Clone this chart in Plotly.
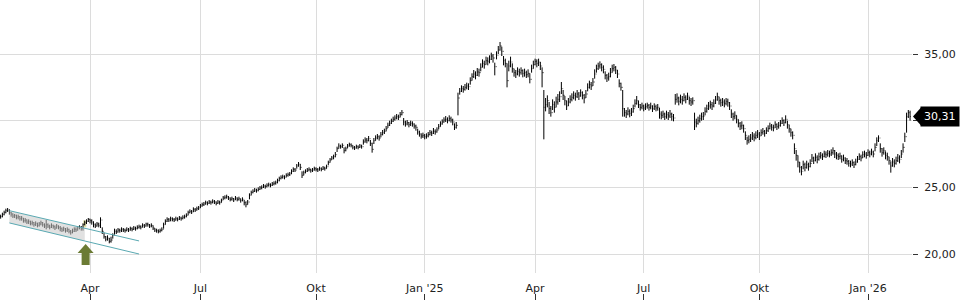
import pandas as pd
import plotly.graph_objects as go

# ---------------- data ----------------
start_date = "2024-01-18"
end_date = "2026-02-05"
holidays = ["2024-03-29", "2024-04-01", "2024-05-01", "2024-12-24", "2024-12-25",
            "2024-12-26", "2024-12-31", "2025-01-01", "2025-04-18", "2025-04-21",
            "2025-05-01", "2025-12-24", "2025-12-25", "2025-12-26", "2025-12-31",
            "2026-01-01"]

closes = [
    22.80, 22.95, 23.10, 23.25, 23.30, 23.10, 23.00, 22.85, 22.90, 22.75,
    22.80, 22.65, 22.70, 22.50, 22.55, 22.40, 22.45, 22.30, 22.35, 22.20,
    22.30, 22.15, 22.25, 22.35, 22.20, 22.10, 22.20, 22.10, 22.00, 22.15,
    22.05, 21.95, 22.10, 22.00, 21.90, 21.80, 21.90, 21.75, 21.85, 21.70,
    21.60, 21.70, 21.85, 21.80, 21.95, 22.00, 21.90, 22.20, 22.35, 22.45,
    22.60, 22.50, 22.40, 22.20, 22.10, 22.25, 22.15, 22.55, 21.70, 21.30,
    21.10, 21.20, 20.95, 21.05, 21.40, 21.70, 21.65, 21.80, 21.75, 21.85,
    21.80, 21.75, 21.85, 21.80, 21.90, 21.85, 21.95, 21.90, 22.00, 22.05,
    22.00, 22.15, 22.10, 22.25, 22.20, 22.10, 22.15, 21.95, 21.80, 21.75,
    21.70, 21.75, 21.85, 22.20, 22.45, 22.60, 22.55, 22.65, 22.60, 22.55,
    22.65, 22.60, 22.70, 22.65, 22.75, 22.80, 22.90, 23.10, 23.20, 23.15,
    23.35, 23.30, 23.40, 23.45, 23.60, 23.70, 23.75, 23.85, 23.80, 23.90,
    23.85, 23.95, 23.90, 23.80, 23.90, 23.85, 24.00, 24.20, 24.25, 24.30,
    24.20, 24.10, 24.15, 24.05, 24.20, 24.10, 24.15, 24.00, 24.10, 23.85,
    23.70, 23.90, 24.40, 24.60, 24.70, 24.80, 24.75, 24.85, 24.95, 25.00,
    25.10, 25.05, 25.15, 25.20, 25.15, 25.25, 25.30, 25.35, 25.50, 25.65,
    25.75, 25.80, 25.75, 25.90, 25.95, 26.00, 26.20, 26.35, 26.30, 26.60,
    26.75, 26.50, 25.90, 26.10, 26.20, 26.30, 26.35, 26.25, 26.30, 26.40,
    26.35, 26.30, 26.40, 26.35, 26.45, 26.40, 26.55, 26.85, 27.05, 27.20,
    27.30, 27.45, 27.90, 28.10, 28.05, 28.15, 27.75, 27.90, 28.10, 28.20,
    28.15, 28.00, 27.95, 28.05, 28.00, 28.10, 28.05, 28.40, 28.55, 28.50,
    28.65, 28.30, 27.85, 28.50, 28.70, 28.80, 28.70, 28.95, 29.10, 29.20,
    29.40, 29.65, 29.80, 29.95, 30.10, 30.20, 30.30, 30.25, 30.45, 30.60,
    29.90, 29.75, 29.85, 29.70, 29.80, 29.75, 29.60, 29.50, 29.15, 29.00,
    28.85, 28.90, 28.80, 28.85, 28.95, 29.10, 29.05, 29.20, 29.15, 29.30,
    29.55, 29.75, 29.90, 30.05, 30.10, 30.00, 30.15, 30.05, 29.90, 29.50,
    29.65, 31.70, 32.20, 32.40, 32.35, 32.50, 32.60, 32.55, 33.00, 33.30,
    33.50, 33.40, 33.65, 33.60, 34.00, 34.30, 34.20, 34.50, 34.45, 34.60,
    34.85, 34.70, 34.05, 34.90, 35.30, 35.60, 35.20, 34.50, 34.30, 33.00,
    34.10, 34.40, 33.90, 33.60, 33.50, 33.70, 33.60, 33.75, 33.55, 33.60,
    33.45, 33.55, 33.10, 33.90, 34.20, 34.45, 34.30, 34.40, 34.10, 33.60,
    31.00, 31.20, 31.50, 30.90, 30.60, 31.20, 31.00, 31.40, 31.60, 31.80,
    32.40, 31.90, 31.50, 31.10, 31.40, 31.60, 31.75, 31.90, 31.80, 32.00,
    31.85, 32.10, 31.90, 31.70, 32.00, 32.50, 32.70, 32.60, 32.90, 33.50,
    33.90, 34.10, 34.20, 34.00, 33.85, 33.40, 33.20, 33.30, 33.60, 33.90,
    34.00, 33.80, 33.50, 32.80, 32.50, 30.90, 30.60, 30.50, 30.70, 30.55,
    30.65, 30.90, 31.30, 31.50, 31.20, 31.00, 31.10, 30.95, 31.05, 31.15,
    31.00, 31.10, 30.90, 31.05, 30.95, 31.00, 30.50, 30.40, 30.50, 30.30,
    30.45, 30.35, 30.50, 30.30, 30.20, 31.60, 31.70, 31.45, 31.60, 31.50,
    31.75, 31.60, 31.85, 31.50, 31.40, 31.50, 29.90, 29.80, 30.00, 30.15,
    30.30, 30.35, 30.70, 30.90, 31.10, 31.20, 31.10, 31.30, 31.55, 31.80,
    31.50, 31.35, 31.40, 31.30, 31.45, 31.35, 31.10, 30.50, 30.30, 30.40,
    30.10, 29.80, 29.60, 29.65, 29.40, 28.90, 28.50, 28.60, 28.70, 28.85,
    28.75, 28.90, 29.00, 28.85, 29.10, 29.20, 29.05, 29.25, 29.40, 29.60,
    29.50, 29.45, 29.70, 29.55, 29.65, 29.80, 30.00, 29.85, 30.10, 29.70,
    29.40, 29.10, 28.90, 27.90, 27.40, 26.90, 26.50, 26.20, 26.70, 26.50,
    26.70, 26.55, 26.80, 27.20, 27.00, 27.25, 27.10, 27.30, 27.40, 27.30,
    27.50, 27.45, 27.55, 27.50, 27.60, 27.75, 27.50, 27.40, 27.30, 27.35,
    27.10, 27.20, 27.00, 26.95, 26.80, 26.75, 26.85, 26.70, 26.90, 27.10,
    27.30, 27.20, 27.45, 27.50, 27.40, 27.60, 27.50, 27.65, 27.50, 28.00,
    28.50, 28.70, 27.90, 27.60, 27.75, 27.40, 27.30, 27.00, 26.60, 26.90,
    26.80, 27.00, 27.20, 27.10, 27.50, 28.00, 28.80, 30.30, 30.60, 30.31,
]

highs = [
    22.95, 23.10, 23.25, 23.40, 23.45, 23.35, 23.15, 23.05, 23.00, 22.95,
    22.95, 22.85, 22.85, 22.70, 22.70, 22.60, 22.60, 22.50, 22.50, 22.40,
    22.45, 22.35, 22.40, 22.50, 22.40, 22.30, 22.55, 22.30, 22.20, 22.30,
    22.20, 22.15, 22.25, 22.15, 22.10, 22.00, 22.05, 21.95, 22.00, 21.90,
    21.80, 21.90, 22.00, 22.00, 22.10, 22.15, 22.10, 22.30, 22.50, 22.60,
    22.70, 22.65, 22.60, 22.45, 22.30, 22.40, 22.35, 22.75, 22.00, 21.60,
    21.35, 21.40, 21.20, 21.30, 21.55, 21.90, 21.85, 21.95, 21.90, 22.00,
    21.95, 21.90, 22.00, 21.95, 22.05, 22.00, 22.10, 22.05, 22.15, 22.20,
    22.15, 22.30, 22.25, 22.35, 22.35, 22.25, 22.30, 22.15, 21.95, 21.90,
    21.85, 21.90, 22.00, 22.35, 22.60, 22.75, 22.70, 22.80, 22.75, 22.70,
    22.80, 22.75, 22.85, 22.80, 22.90, 22.95, 23.05, 23.25, 23.35, 23.30,
    23.50, 23.45, 23.55, 23.60, 23.75, 23.85, 23.90, 24.00, 23.95, 24.05,
    24.00, 24.10, 24.05, 23.95, 24.05, 24.00, 24.15, 24.35, 24.40, 24.45,
    24.35, 24.25, 24.30, 24.20, 24.35, 24.25, 24.30, 24.15, 24.25, 24.05,
    23.95, 24.05, 24.55, 24.75, 24.85, 24.95, 24.90, 25.00, 25.10, 25.15,
    25.25, 25.20, 25.30, 25.35, 25.30, 25.40, 25.45, 25.50, 25.65, 25.80,
    25.90, 25.95, 25.90, 26.05, 26.10, 26.15, 26.35, 26.50, 26.45, 26.75,
    26.90, 26.75, 26.20, 26.25, 26.35, 26.45, 26.50, 26.40, 26.45, 26.55,
    26.50, 26.45, 26.55, 26.50, 26.60, 26.55, 26.70, 27.00, 27.20, 27.35,
    27.45, 27.65, 28.05, 28.30, 28.20, 28.30, 28.00, 28.05, 28.25, 28.35,
    28.30, 28.15, 28.10, 28.20, 28.15, 28.25, 28.20, 28.60, 28.75, 28.70,
    28.85, 28.55, 28.35, 28.70, 28.90, 29.00, 28.90, 29.15, 29.30, 29.40,
    29.60, 29.85, 30.00, 30.15, 30.30, 30.40, 30.50, 30.45, 30.65, 30.80,
    30.20, 30.00, 30.05, 29.90, 30.00, 29.95, 29.80, 29.70, 29.40, 29.25,
    29.05, 29.10, 29.00, 29.05, 29.15, 29.30, 29.25, 29.45, 29.35, 29.50,
    29.75, 29.95, 30.10, 30.25, 30.35, 30.25, 30.40, 30.30, 30.15, 29.80,
    29.90, 32.10, 32.45, 32.65, 32.60, 32.75, 32.85, 32.80, 33.25, 33.55,
    33.80, 33.70, 33.95, 33.90, 34.30, 34.60, 34.50, 34.80, 34.75, 34.90,
    35.10, 35.00, 34.35, 35.20, 35.60, 35.90, 35.55, 34.85, 34.65, 34.30,
    34.50, 34.80, 34.30, 33.90, 33.80, 34.00, 33.90, 34.00, 33.85, 33.90,
    33.75, 33.85, 33.55, 34.20, 34.50, 34.65, 34.60, 34.65, 34.40, 34.00,
    32.30, 31.70, 31.90, 31.40, 31.10, 31.60, 31.45, 31.80, 32.00, 32.20,
    32.90, 32.30, 31.85, 31.50, 31.70, 31.90, 32.05, 32.20, 32.10, 32.30,
    32.15, 32.35, 32.20, 32.00, 32.30, 32.80, 33.00, 32.90, 33.20, 33.85,
    34.20, 34.35, 34.45, 34.30, 34.15, 33.70, 33.50, 33.60, 33.95, 34.20,
    34.25, 34.10, 33.80, 33.10, 32.85, 32.30, 30.95, 30.80, 31.00, 30.85,
    30.95, 31.20, 31.60, 31.85, 31.50, 31.25, 31.35, 31.20, 31.30, 31.35,
    31.25, 31.35, 31.15, 31.30, 31.20, 31.25, 30.95, 30.70, 30.75, 30.60,
    30.75, 30.65, 30.80, 30.60, 30.50, 32.00, 32.05, 31.80, 31.95, 31.85,
    32.05, 31.90, 32.10, 31.80, 31.70, 31.75, 30.60, 30.15, 30.30, 30.45,
    30.60, 30.65, 31.00, 31.20, 31.40, 31.50, 31.40, 31.60, 31.85, 32.10,
    31.80, 31.65, 31.70, 31.60, 31.70, 31.65, 31.40, 30.85, 30.60, 30.70,
    30.40, 30.10, 29.90, 29.95, 29.70, 29.20, 28.80, 28.90, 29.00, 29.15,
    29.05, 29.20, 29.30, 29.15, 29.35, 29.45, 29.30, 29.50, 29.65, 29.85,
    29.75, 29.70, 29.95, 29.80, 29.90, 30.05, 30.25, 30.10, 30.40, 30.00,
    29.70, 29.40, 29.20, 28.30, 27.80, 27.40, 26.90, 26.60, 27.00, 26.85,
    27.00, 26.85, 27.10, 27.50, 27.30, 27.55, 27.40, 27.60, 27.65, 27.55,
    27.75, 27.70, 27.80, 27.75, 27.85, 28.00, 27.80, 27.65, 27.55, 27.60,
    27.40, 27.45, 27.25, 27.20, 27.05, 27.00, 27.10, 26.95, 27.15, 27.35,
    27.55, 27.45, 27.70, 27.75, 27.65, 27.85, 27.75, 27.90, 27.75, 28.30,
    28.75, 28.90, 28.30, 27.95, 28.00, 27.70, 27.60, 27.30, 26.95, 27.20,
    27.10, 27.30, 27.50, 27.40, 27.80, 28.30, 29.10, 30.60, 30.80, 30.75,
]

lows = [
    22.65, 22.75, 22.90, 23.05, 23.15, 22.95, 22.80, 22.70, 22.70, 22.60,
    22.60, 22.50, 22.50, 22.35, 22.35, 22.25, 22.25, 22.15, 22.15, 22.05,
    22.10, 22.00, 22.05, 22.15, 22.05, 21.95, 21.85, 21.95, 21.85, 21.95,
    21.90, 21.80, 21.90, 21.85, 21.70, 21.65, 21.70, 21.60, 21.65, 21.55,
    21.45, 21.55, 21.65, 21.65, 21.75, 21.85, 21.75, 21.75, 22.15, 22.25,
    22.40, 22.30, 22.20, 22.00, 21.95, 22.05, 22.00, 21.95, 21.50, 21.15,
    20.95, 21.00, 20.80, 20.85, 21.15, 21.45, 21.50, 21.60, 21.60, 21.65,
    21.65, 21.60, 21.70, 21.65, 21.75, 21.70, 21.80, 21.75, 21.85, 21.90,
    21.85, 22.00, 21.95, 22.05, 22.05, 21.95, 22.00, 21.80, 21.65, 21.60,
    21.55, 21.60, 21.70, 21.90, 22.20, 22.40, 22.40, 22.45, 22.45, 22.40,
    22.50, 22.45, 22.55, 22.50, 22.60, 22.65, 22.75, 22.90, 23.05, 23.00,
    23.15, 23.15, 23.25, 23.30, 23.45, 23.55, 23.60, 23.70, 23.65, 23.75,
    23.70, 23.80, 23.75, 23.65, 23.75, 23.70, 23.85, 24.05, 24.10, 24.15,
    24.05, 23.95, 24.00, 23.90, 24.05, 23.95, 24.00, 23.85, 23.95, 23.65,
    23.50, 23.70, 24.10, 24.40, 24.55, 24.65, 24.60, 24.70, 24.80, 24.85,
    24.95, 24.90, 25.00, 25.05, 25.00, 25.10, 25.15, 25.20, 25.30, 25.45,
    25.60, 25.65, 25.60, 25.75, 25.80, 25.85, 26.00, 26.15, 26.15, 26.40,
    26.55, 26.30, 25.70, 25.90, 26.05, 26.15, 26.20, 26.10, 26.15, 26.25,
    26.20, 26.15, 26.25, 26.20, 26.30, 26.25, 26.40, 26.65, 26.85, 27.05,
    27.10, 27.25, 27.65, 27.90, 27.90, 27.95, 27.55, 27.70, 27.95, 28.05,
    28.00, 27.85, 27.80, 27.90, 27.85, 27.95, 27.90, 28.20, 28.35, 28.30,
    28.45, 28.10, 27.60, 28.25, 28.50, 28.60, 28.50, 28.75, 28.90, 29.00,
    29.20, 29.45, 29.60, 29.75, 29.90, 30.00, 30.10, 30.05, 30.25, 30.40,
    29.65, 29.55, 29.65, 29.50, 29.60, 29.55, 29.40, 29.25, 28.95, 28.80,
    28.65, 28.70, 28.60, 28.65, 28.75, 28.90, 28.85, 29.00, 28.95, 29.10,
    29.35, 29.55, 29.70, 29.85, 29.90, 29.80, 29.95, 29.85, 29.65, 29.30,
    29.40, 30.40, 31.95, 32.15, 32.10, 32.25, 32.35, 32.30, 32.70, 33.00,
    33.20, 33.10, 33.35, 33.30, 33.70, 34.00, 33.90, 34.20, 34.15, 34.30,
    34.55, 34.35, 33.40, 34.60, 35.00, 35.25, 34.85, 34.15, 34.00, 32.50,
    33.70, 34.00, 33.60, 33.30, 33.20, 33.40, 33.30, 33.45, 33.25, 33.30,
    33.20, 33.25, 32.80, 33.60, 33.90, 34.15, 34.00, 34.10, 33.80, 32.50,
    28.60, 30.70, 31.00, 30.50, 30.30, 30.80, 30.60, 31.00, 31.20, 31.40,
    32.00, 31.55, 31.15, 30.80, 31.10, 31.30, 31.45, 31.60, 31.50, 31.70,
    31.55, 31.80, 31.60, 31.30, 31.70, 32.20, 32.40, 32.30, 32.60, 33.15,
    33.60, 33.80, 33.90, 33.70, 33.55, 33.10, 32.90, 33.00, 33.25, 33.60,
    33.70, 33.50, 33.20, 32.50, 32.25, 30.30, 30.30, 30.20, 30.40, 30.25,
    30.35, 30.60, 31.00, 31.20, 30.95, 30.75, 30.85, 30.70, 30.80, 30.90,
    30.75, 30.85, 30.65, 30.80, 30.70, 30.75, 30.15, 30.10, 30.20, 30.05,
    30.15, 30.05, 30.20, 30.00, 29.95, 31.20, 31.35, 31.15, 31.30, 31.20,
    31.45, 31.30, 31.55, 31.20, 31.10, 31.20, 29.30, 29.50, 29.70, 29.85,
    30.00, 30.05, 30.40, 30.60, 30.80, 30.90, 30.80, 31.00, 31.25, 31.50,
    31.20, 31.05, 31.10, 31.00, 31.15, 31.05, 30.80, 30.20, 30.00, 30.10,
    29.80, 29.50, 29.30, 29.35, 29.10, 28.55, 28.20, 28.30, 28.40, 28.55,
    28.45, 28.60, 28.70, 28.55, 28.85, 28.95, 28.80, 29.00, 29.15, 29.35,
    29.25, 29.20, 29.45, 29.30, 29.40, 29.55, 29.75, 29.60, 29.80, 29.40,
    29.10, 28.80, 28.60, 27.50, 27.00, 26.50, 26.10, 25.90, 26.35, 26.20,
    26.40, 26.25, 26.50, 26.90, 26.75, 26.95, 26.80, 27.00, 27.15, 27.05,
    27.25, 27.20, 27.30, 27.25, 27.35, 27.45, 27.20, 27.10, 27.05, 27.10,
    26.85, 26.95, 26.75, 26.70, 26.55, 26.50, 26.60, 26.45, 26.65, 26.85,
    27.05, 26.95, 27.20, 27.25, 27.15, 27.35, 27.25, 27.40, 27.25, 27.70,
    28.10, 28.40, 27.60, 27.30, 27.45, 27.10, 27.00, 26.70, 26.10, 26.55,
    26.50, 26.70, 26.90, 26.80, 27.20, 27.60, 28.40, 29.10, 30.20, 30.00,
]

# quarter ticks
tick_dates = ["2024-04-02", "2024-07-01", "2024-10-01", "2025-01-02",
              "2025-04-01", "2025-07-01", "2025-10-01", "2026-01-02"]
tick_labels = ["Apr", "Jul", "Okt", "Jan '25", "Apr", "Jul", "Okt", "Jan '26"]
y_ticks = [20, 25, 30, 35]
y_tick_labels = ["20,00", "25,00", "", "35,00"]  # 30,00 is hidden behind the last-price box

# trend channel (start date, end date, upper/lower values)
channel_dates = ["2024-01-25", "2024-05-13"]
channel_upper = [23.25, 20.98]
channel_lower = [22.33, 20.00]
channel_fill_end = "2024-03-26"
signal_date = "2024-03-26"
signal_price = 20.75

# ---------------- build ----------------
days = pd.bdate_range(start_date, end_date)
days = days[~days.isin(pd.to_datetime(holidays))]
dates = [d.strftime("%Y-%m-%d") for d in days]
opens = [closes[0]] + closes[:-1]

i0 = dates.index(channel_dates[0])
i1 = dates.index(channel_dates[1])
ifill = dates.index(channel_fill_end)
frac = (ifill - i0) / (i1 - i0)
up_fill = channel_upper[0] + (channel_upper[1] - channel_upper[0]) * frac
lo_fill = channel_lower[0] + (channel_lower[1] - channel_lower[0]) * frac
isig = dates.index(signal_date)

teal = "#5aa9b2"
fig = go.Figure()

fig.add_trace(go.Scatter(
    x=[channel_dates[0], channel_fill_end, channel_fill_end, channel_dates[0]],
    y=[channel_upper[0], up_fill, lo_fill, channel_lower[0]],
    fill="toself", fillcolor="rgba(200,200,200,0.55)", line=dict(width=0),
    mode="lines", hoverinfo="skip", showlegend=False))
fig.add_trace(go.Scatter(x=channel_dates, y=channel_upper, mode="lines",
                         line=dict(color=teal, width=1), hoverinfo="skip", showlegend=False))
fig.add_trace(go.Scatter(x=channel_dates, y=channel_lower, mode="lines",
                         line=dict(color=teal, width=1), hoverinfo="skip", showlegend=False))

fig.add_trace(go.Ohlc(
    x=dates, open=opens, high=highs, low=lows, close=closes,
    increasing=dict(line=dict(color="black", width=1)),
    decreasing=dict(line=dict(color="black", width=1)),
    tickwidth=0.3, hoverinfo="skip", showlegend=False))

# invisible trace for the bottom tick axis
fig.add_trace(go.Scatter(x=[dates[0]], y=[None], xaxis="x2", yaxis="y",
                         hoverinfo="skip", showlegend=False, mode="markers"))

xr = [-0.36, 520.1]
yr = [18.575, 39.05]
ydom0 = 27 / 300
font = dict(family="DejaVu Sans", size=11, color="#222")

fig.update_layout(
    width=960, height=300,
    margin=dict(l=0, r=48, t=0, b=0),
    paper_bgcolor="white", plot_bgcolor="white",
    separators=",.",
    font=font,
    showlegend=False,
    xaxis=dict(type="category", categoryorder="array", categoryarray=dates,
               range=xr, tickvals=tick_dates, ticktext=tick_labels,
               showgrid=True, gridcolor="#dcdcdc", gridwidth=1,
               ticks="", ticklabelstandoff=7, showline=False, zeroline=False,
               rangeslider=dict(visible=False), tickfont=font, anchor="y"),
    xaxis2=dict(type="category", categoryorder="array", categoryarray=dates,
                range=xr, tickvals=tick_dates, ticktext=["" for _ in tick_dates],
                overlaying="x", anchor="free", position=0, side="bottom",
                ticks="inside", ticklen=6, tickcolor="#333", showticklabels=False,
                showgrid=False, showline=False, zeroline=False),
    yaxis=dict(side="right", range=yr, domain=[ydom0, 1], tickvals=y_ticks,
               ticktext=y_tick_labels, showgrid=True, gridcolor="#dcdcdc", gridwidth=1,
               ticks="outside", ticklen=5, tickcolor="#333", ticklabelstandoff=4,
               zeroline=False, showline=False, tickfont=font),
)

# highlighted signal bar
fig.add_shape(type="rect", xref="x", yref="y",
              x0=isig - 0.9, x1=isig + 0.9,
              y0=lows[isig] - 0.15, y1=highs[isig] + 0.02,
              fillcolor="rgba(205,205,115,0.6)", line=dict(width=0), layer="below")

# green up-arrow
fig.add_shape(type="path", xref="x", yref="y",
              xsizemode="pixel", ysizemode="pixel",
              xanchor=isig + 0.5, yanchor=signal_price,
              path="M0,0 L8,-9 L4,-9 L4,-21 L-4,-21 L-4,-9 L-8,-9 Z",
              fillcolor="#6b7b34", line=dict(width=0))

# last value label
last = closes[-1]
ypaper = ydom0 + (last - yr[0]) / (yr[1] - yr[0]) * (1 - ydom0)
fig.add_shape(type="path", xref="paper", yref="paper",
              xsizemode="pixel", ysizemode="pixel", xanchor=1, yanchor=ypaper,
              path="M1,0 L9,9 L9,-9 Z", fillcolor="black", line=dict(width=0))
fig.add_annotation(xref="paper", yref="paper", x=1, y=ypaper, xanchor="left",
                   yanchor="middle", xshift=8, showarrow=False,
                   text=f"{last:.2f}".replace(".", ","),
                   font=dict(family="DejaVu Sans", size=11, color="white"),
                   bgcolor="black", borderpad=3)

fig.write_html("out.html")
